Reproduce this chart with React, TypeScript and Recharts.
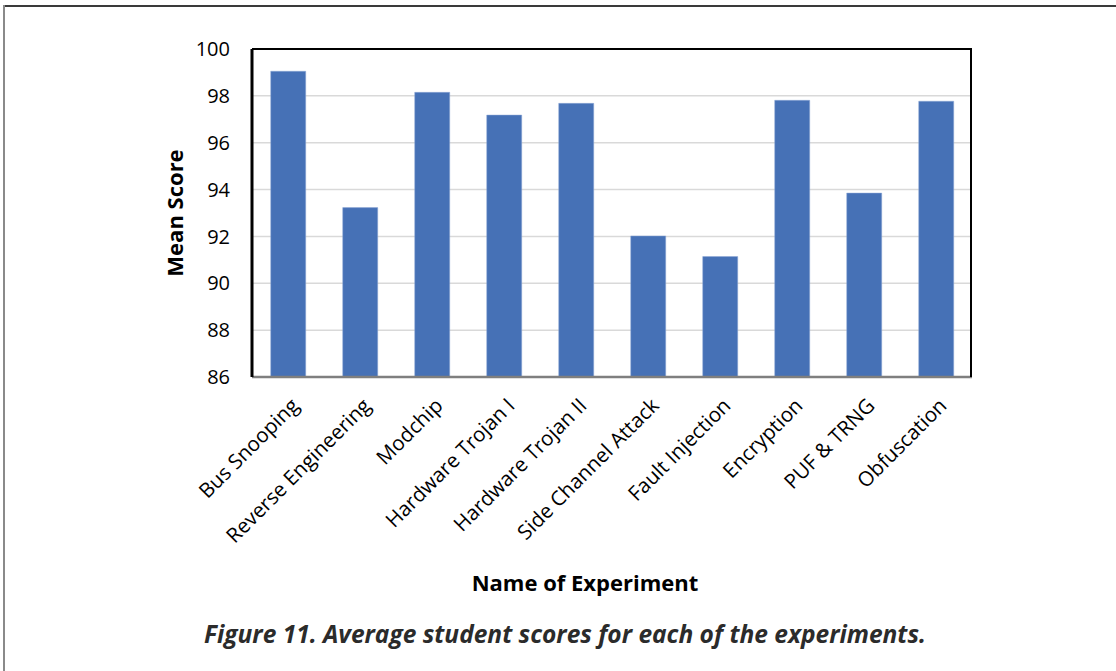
import React from 'react';
import { BarChart, Bar, XAxis, YAxis, CartesianGrid, Label } from 'recharts';

const experiments = [
  'Bus Snooping',
  'Reverse Engineering',
  'Modchip',
  'Hardware Trojan I',
  'Hardware Trojan II',
  'Side Channel Attack',
  'Fault Injection',
  'Encryption',
  'PUF & TRNG',
  'Obfuscation',
];
const meanScores = [99.05, 93.23, 98.15, 97.18, 97.68, 92.02, 91.14, 97.81, 93.85, 97.77];
const yTicks = [86, 88, 90, 92, 94, 96, 98, 100];

const data = experiments.map((name, i) => ({ name, score: meanScores[i] }));

const FONT = '"Open Sans", sans-serif';

const RotatedTick = (props: any) => {
  const { x, y, payload } = props;
  return (
    <g transform={`translate(${x + 12},${y + 22})`}>
      <text
        transform="rotate(-45)"
        textAnchor="end"
        fontFamily={FONT}
        fontSize={20.5}
        fill="#000"
      >
        {payload.value}
      </text>
    </g>
  );
};

const App: React.FC = () => {
  return (
    <div style={{ position: 'absolute', left: 0, top: 0, width: 1116, height: 671, background: '#fff' }}>
      {/* outer frame: top and left edge only */}
      <div style={{ position: 'absolute', left: 3, top: 5, width: 1113, height: 2, background: '#3a3a3a' }} />
      <div style={{ position: 'absolute', left: 3, top: 5, width: 2, height: 666, background: '#8a8a8a' }} />

      <BarChart
        width={1116}
        height={671}
        data={data}
        margin={{ top: 49, right: 144, left: 0, bottom: 0 }}
        barCategoryGap="26%"
      >
        <CartesianGrid vertical={false} stroke="#d9d9d9" strokeWidth={1.5} />
        <XAxis
          dataKey="name"
          height={294}
          interval={0}
          tick={<RotatedTick />}
          tickLine={false}
          axisLine={{ stroke: '#7f7f7f', strokeWidth: 2.5 }}
        >
          <Label
            value="Name of Experiment"
            position="insideBottom"
            offset={80}
            dx={-27}
            style={{ fontFamily: FONT, fontSize: 22, fontWeight: 700, fill: '#000' }}
          />
        </XAxis>
        <YAxis
          width={252}
          domain={[86, 100]}
          ticks={yTicks}
          interval={0}
          tickLine={false}
          tickMargin={16}
          axisLine={{ stroke: '#000', strokeWidth: 3 }}
          tick={{ fontFamily: FONT, fontSize: 20, fill: '#000' }}
        >
          <Label
            value="Mean Score"
            position="insideLeft"
            angle={-90}
            offset={175}
            style={{ textAnchor: 'middle', fontFamily: FONT, fontSize: 22, fontWeight: 700, fill: '#000' }}
          />
        </YAxis>
        <Bar dataKey="score" fill="#4671b6" stroke="#8fa8d6" strokeWidth={0.5} isAnimationActive={false} />
      </BarChart>

      {/* top and right edges of the plot frame */}
      <div
        style={{
          position: 'absolute',
          left: 252,
          top: 48,
          width: 720,
          height: 329,
          borderTop: '2.5px solid #000',
          borderRight: '2.5px solid #000',
          boxSizing: 'border-box',
          pointerEvents: 'none',
        }}
      />

      <div
        style={{
          position: 'absolute',
          left: 0,
          top: 617,
          width: 1130,
          textAlign: 'center',
          fontFamily: FONT,
          fontSize: 24.5,
          fontWeight: 700,
          fontStyle: 'italic',
          color: '#2b2b2b',
        }}
      >
        Figure 11. Average student scores for each of the experiments.
      </div>
    </div>
  );
};

export default App;
